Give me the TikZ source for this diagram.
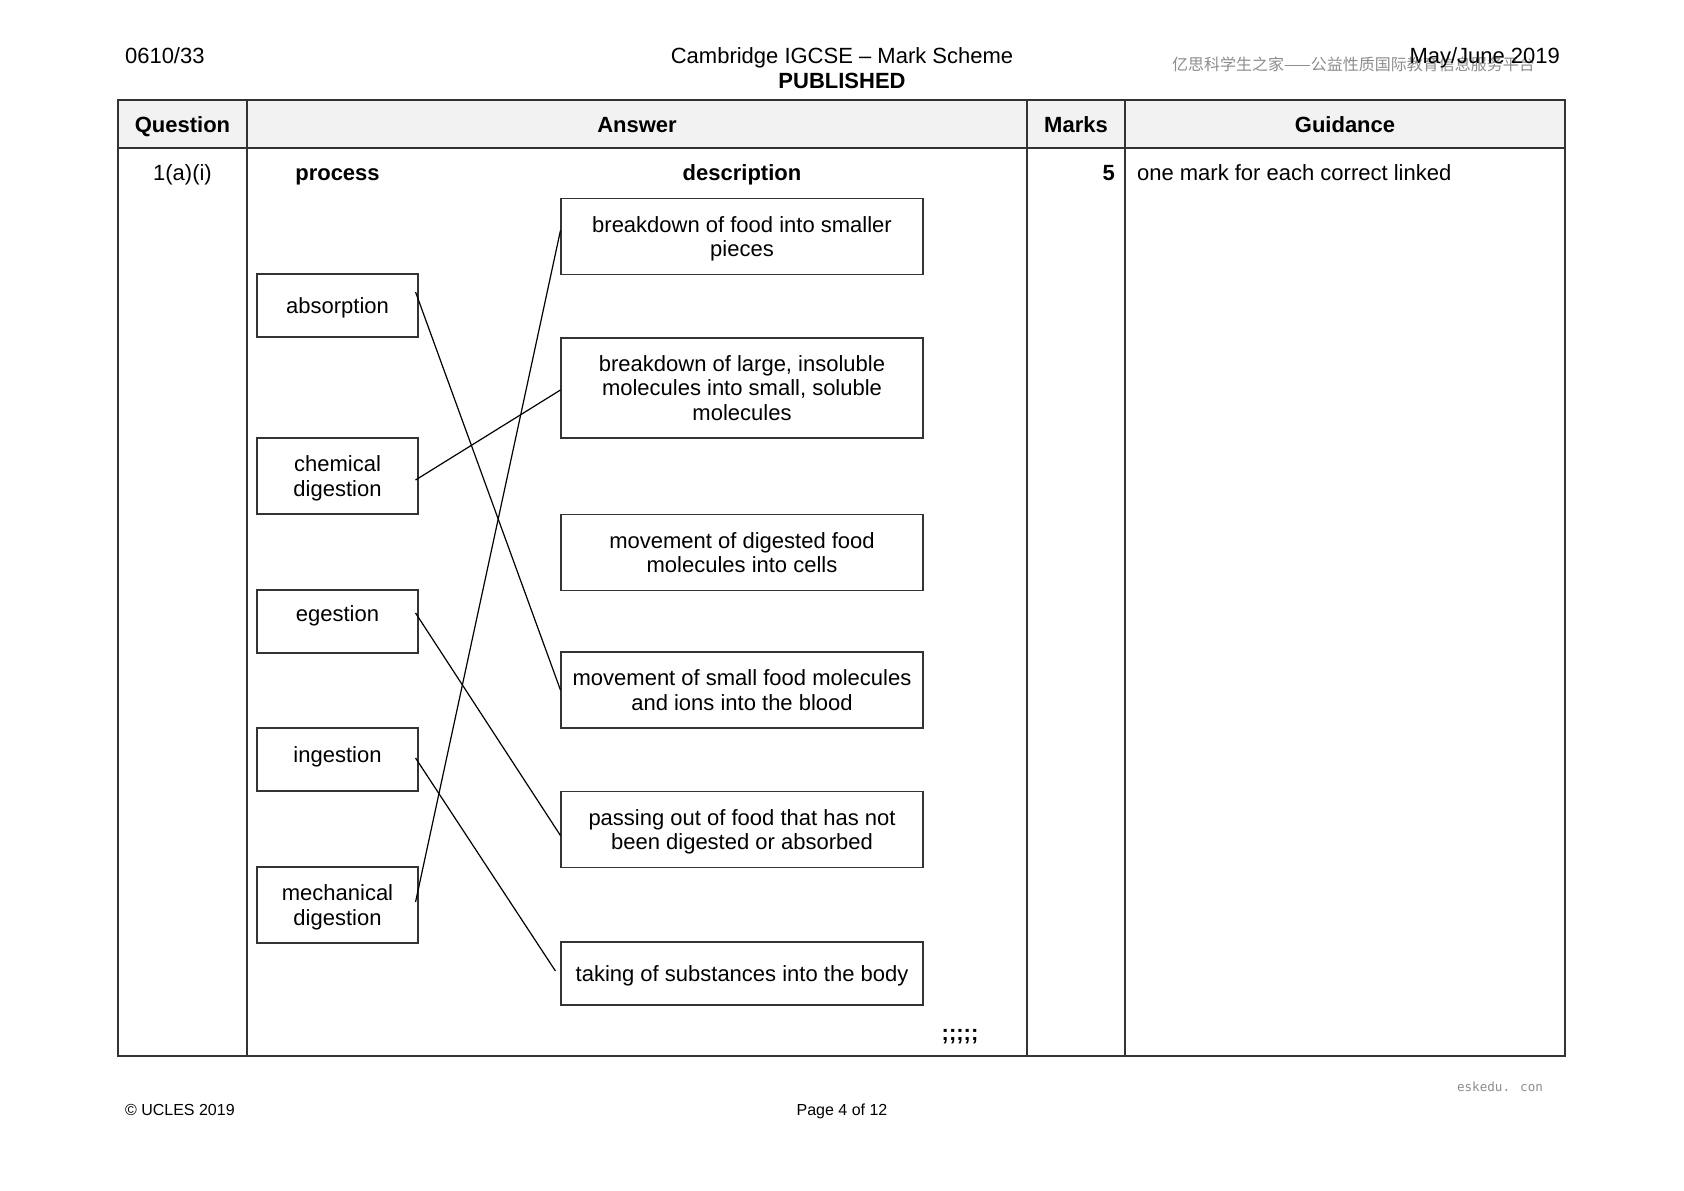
\documentclass[tikz,border=0pt]{standalone}
\usepackage{fontspec}
\setmainfont{Liberation Sans}
\newfontfamily\cjk{Noto Sans CJK SC}
\newfontfamily\marcafont{DejaVu Sans Mono}
\definecolor{gris}{HTML}{F2F2F2}
\definecolor{borde}{HTML}{333333}
\definecolor{agua}{HTML}{8C8C8C}
\tikzset{
  caja/.style={draw=borde, line width=0.55pt, minimum width=80.5pt, align=center,
    inner sep=0pt, text depth=0pt, font=\fontsize{11}{12.4}\selectfont},
  cajadesc/.style={caja, minimum width=181pt},
  texto/.style={anchor=base, font=\fontsize{11}{12}\selectfont},
  enlace/.style={line width=0.6pt},
}
\begin{document}
\begin{tikzpicture}[x=0.5pt,y=-0.5pt]
    \useasboundingbox (0,0) rectangle (1684,1190);

    % Cabecera de la pagina
    \node[agua, anchor=base west, font=\cjk\fontsize{8}{8}\selectfont] (marca) at (1165,70) {亿思科学生之家——公益性质国际教育信息服务平台};
    \node[texto, anchor=base west] (codigo) at (118,63.5) {0610/33};
    \node[texto] (titulo) at (842,63.5) {Cambridge IGCSE – Mark Scheme};
    \node[texto, font=\bfseries\fontsize{11}{12}\selectfont] (publicado) at (842,88.5) {PUBLISHED};
    \node[texto, anchor=base east] (fecha) at (1567,63.5) {May/June 2019};

    % Tabla
    \fill[gris] (118,100) rectangle (1565,148);
    \draw[borde, line width=0.6pt] (118,100) rectangle (1565,1056);
    \draw[borde, line width=0.6pt] (118,148) -- (1565,148);
    \foreach \x in {247,1027,1125}
        \draw[borde, line width=0.6pt] (\x,100) -- (\x,1056);

    % Titulos de las columnas
    \node[texto, font=\bfseries\fontsize{11}{12}\selectfont] (pregunta) at (182.5,132) {Question};
    \node[texto, font=\bfseries\fontsize{11}{12}\selectfont] (respuesta) at (637,132) {Answer};
    \node[texto, font=\bfseries\fontsize{11}{12}\selectfont] (puntos) at (1076,132) {Marks};
    \node[texto, font=\bfseries\fontsize{11}{12}\selectfont] (guia) at (1345,132) {Guidance};

    % Fila de la pregunta
    \node[texto] (numero) at (182.5,180) {1(a)(i)};
    \node[texto, font=\bfseries\fontsize{11}{12}\selectfont] (proceso) at (337.5,180) {process};
    \node[texto, font=\bfseries\fontsize{11}{12}\selectfont] (descripcion) at (742,180) {description};
    \node[texto, anchor=base east, font=\bfseries\fontsize{11}{12}\selectfont] (cinco) at (1122,180) {5};
    \node[texto, anchor=base west] (nota) at (1130,180) {one mark for each correct linked};

    % Cajas de los procesos
    \node[caja, minimum height=31.5pt] (absorcion) at (337.5,305.5) {absorption};
    \node[caja, minimum height=38pt] (quimica) at (337.5,476) {chemical\\digestion};
    \node[caja, minimum height=31.5pt, text depth=7.5pt] (egestion) at (337.5,621.5) {egestion};
    \node[caja, minimum height=31.5pt, text depth=5.4pt] (ingestion) at (337.5,759.5) {ingestion};
    \node[caja, minimum height=38pt] (mecanica) at (337.5,905) {mechanical\\digestion};

    % Cajas de las descripciones
    \node[cajadesc, minimum height=38pt] (trozos) at (742,236.5) {breakdown of food into smaller\\pieces};
    \node[cajadesc, minimum height=50pt] (moleculas) at (742,388) {breakdown of large, insoluble\\molecules into small, soluble\\molecules};
    \node[cajadesc, minimum height=38pt] (celulas) at (742,552.5) {movement of digested food\\molecules into cells};
    \node[cajadesc, minimum height=38pt] (sangre) at (742,690) {movement of small food molecules\\and ions into the blood};
    \node[cajadesc, minimum height=38pt] (expulsion) at (742,829.5) {passing out of food that has not\\been digested or absorbed};
    \node[cajadesc, minimum height=31.5pt] (cuerpo) at (742,973.5) {taking of substances into the body};

    % Lineas que unen cada proceso con su descripcion
    \draw[enlace] ([shift={(-1.5pt,6.75pt)}]absorcion.east) -- ([shift={(0pt,0pt)}]sangre.west);
    \draw[enlace] ([shift={(-1.5pt,-2pt)}]quimica.east) -- ([shift={(0pt,-1pt)}]moleculas.west);
    \draw[enlace] ([shift={(-1.5pt,4.25pt)}]egestion.east) -- ([shift={(0pt,-3pt)}]expulsion.west);
    \draw[enlace] ([shift={(-1.5pt,0.75pt)}]ingestion.east) -- ([shift={(-2.5pt,1.25pt)}]cuerpo.west);
    \draw[enlace] ([shift={(-1.5pt,1.5pt)}]mecanica.east) -- ([shift={(0pt,3pt)}]trozos.west);

    \node[texto, font=\bfseries\fontsize{11}{12}\selectfont] (marcas) at (960,1040) {;;;;;};

    % Pie de la pagina
    \node[agua, font=\marcafont\fontsize{6.3}{7}\selectfont] (web) at (1500,1087) {eskedu. con};
    \node[texto, anchor=base west, font=\fontsize{8}{9}\selectfont] (ucles) at (118,1115) {© UCLES 2019};
    \node[texto, font=\fontsize{8}{9}\selectfont] (pagina) at (842,1115) {Page 4 of 12};
\end{tikzpicture}
\end{document}
